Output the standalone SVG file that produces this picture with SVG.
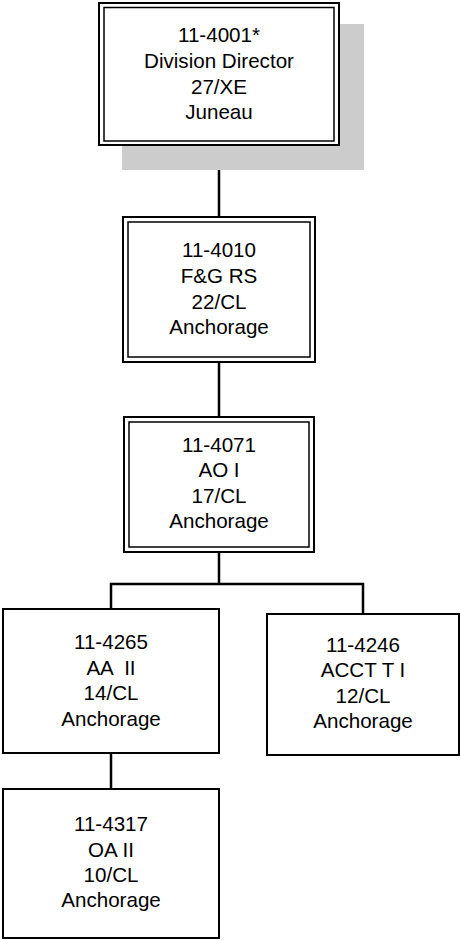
<svg xmlns="http://www.w3.org/2000/svg" width="460" height="940" viewBox="0 0 460 940">
<style>
.box{fill:#fff;stroke:#000;stroke-width:2}
.inner{fill:none;stroke:#000;stroke-width:1.5}
.lbl{font-family:"Liberation Sans",Arial,sans-serif;font-size:20.6px;fill:#000;text-anchor:middle;white-space:pre}
.conn{fill:none;stroke:#000;stroke-width:2.5}
</style>
<rect width="460" height="940" fill="#fff"/>
<g id="connectors">
<line class="conn" x1="219" y1="146" x2="219" y2="217"/>
<line class="conn" x1="219" y1="362" x2="219" y2="417"/>
<polyline class="conn" points="219,552 219,584"/>
<polyline class="conn" points="111,609 111,584 363,584 363,614"/>
<line class="conn" x1="111" y1="753" x2="111" y2="789"/>
</g>
<g id="n4001">
<rect x="122" y="24" width="242" height="146" fill="#cccccc"/>
<rect class="box" x="99" y="3" width="240" height="142"/>
<rect class="inner" x="104" y="7.5" width="230" height="133.5"/>
<text class="lbl" x="219" y="42">11-4001*</text>
<text class="lbl" x="219" y="68">Division Director</text>
<text class="lbl" x="219" y="94">27/XE</text>
<text class="lbl" x="219" y="119">Juneau</text>
</g>
<g id="n4010">
<rect class="box" x="123" y="217" width="192" height="145"/>
<rect class="inner" x="128" y="222" width="182" height="135"/>
<text class="lbl" x="219" y="257">11-4010</text>
<text class="lbl" x="219" y="283">F&amp;G RS</text>
<text class="lbl" x="219" y="309">22/CL</text>
<text class="lbl" x="219" y="334">Anchorage</text>
</g>
<g id="n4071">
<rect class="box" x="124" y="417" width="190" height="135"/>
<rect class="inner" x="129" y="422" width="180" height="125"/>
<text class="lbl" x="219" y="452">11-4071</text>
<text class="lbl" x="219" y="477">AO I</text>
<text class="lbl" x="219" y="503">17/CL</text>
<text class="lbl" x="219" y="528">Anchorage</text>
</g>
<g id="n4265">
<rect class="box" x="3" y="609" width="216" height="144"/>
<text class="lbl" x="111" y="649">11-4265</text>
<text class="lbl" x="111" y="675" xml:space="preserve">AA  II</text>
<text class="lbl" x="111" y="700">14/CL</text>
<text class="lbl" x="111" y="726">Anchorage</text>
</g>
<g id="n4246">
<rect class="box" x="267" y="614" width="192" height="141"/>
<text class="lbl" x="363" y="652">11-4246</text>
<text class="lbl" x="363" y="677">ACCT T I</text>
<text class="lbl" x="363" y="703">12/CL</text>
<text class="lbl" x="363" y="728">Anchorage</text>
</g>
<g id="n4317">
<rect class="box" x="3" y="789" width="216" height="149"/>
<text class="lbl" x="111" y="831">11-4317</text>
<text class="lbl" x="111" y="857">OA II</text>
<text class="lbl" x="111" y="882">10/CL</text>
<text class="lbl" x="111" y="907">Anchorage</text>
</g>
</svg>
